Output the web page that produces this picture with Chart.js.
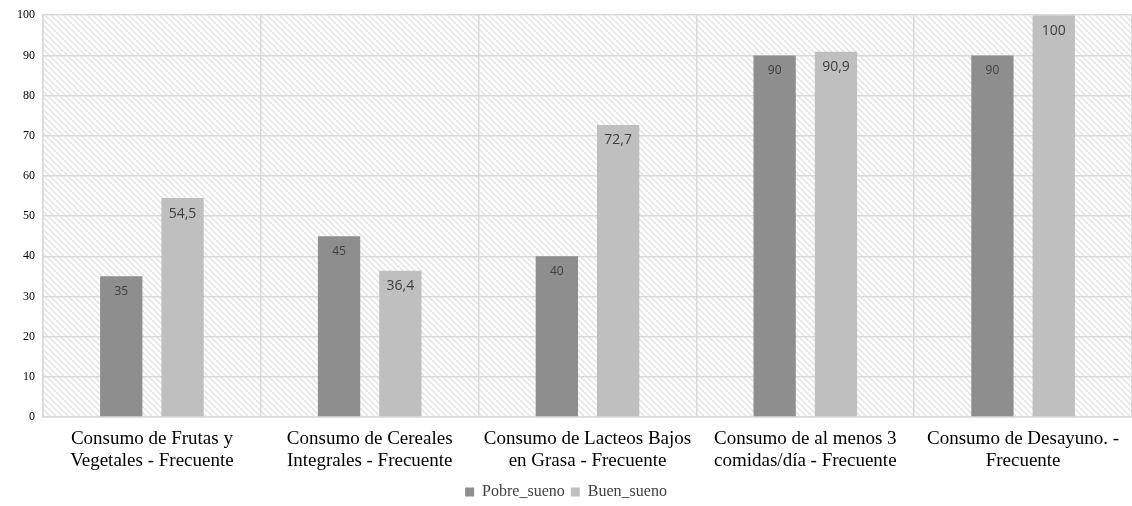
<!DOCTYPE html>
<html>
<head>
<meta charset="utf-8">
<script src="https://cdn.jsdelivr.net/npm/chart.js@4/dist/chart.umd.min.js"></script>
<style>
  html, body { margin: 0; padding: 0; background: #ffffff; overflow: hidden; }
  #wrap { width: 1132px; height: 506px; position: relative; }
  .fontwarm { position: absolute; left: -9999px; top: 0; font-family: 'Liberation Serif'; }
  .fontwarm2 { position: absolute; left: -9999px; top: 0; font-family: 'Open Sans'; }
</style>
</head>
<body>
<span class="fontwarm">Consumo 0123</span>
<span class="fontwarm2">0123,</span>
<div id="wrap"><canvas id="c" width="1132" height="506"></canvas></div>
<script>
// Categories (two-line labels) and series values
const categories = [
  ["Consumo de Frutas y", "Vegetales - Frecuente"],
  ["Consumo de Cereales", "Integrales - Frecuente"],
  ["Consumo de Lacteos Bajos", "en Grasa - Frecuente"],
  ["Consumo de al menos 3", "comidas/día - Frecuente"],
  ["Consumo de Desayuno. -", "Frecuente"]
];
const pobreSueno = [35, 45, 40, 90, 90];
const buenSueno = [54.5, 36.4, 72.7, 90.9, 100];
const seriesNames = ["Pobre_sueno", "Buen_sueno"];
const yTicks = [0, 10, 20, 30, 40, 50, 60, 70, 80, 90, 100];

const SERIF = 'Liberation Serif';
const SANS = 'Open Sans';
const LEGEND_PAD = 6;
const LEGEND_FONT = 16;
const LEGEND_Y = 492;

// Diagonal hatch tile used as the plot-area background
function makeHatch() {
  const s = 6;
  const t = document.createElement('canvas');
  t.width = s; t.height = s;
  const g = t.getContext('2d');
  g.fillStyle = '#ffffff';
  g.fillRect(0, 0, s, s);
  g.strokeStyle = '#e2e2e2';
  g.lineWidth = 1.4;
  g.beginPath();
  g.moveTo(-1, -1); g.lineTo(s + 1, s + 1);
  g.moveTo(-1, s - 1); g.lineTo(1, s + 1);
  g.moveTo(s - 1, -1); g.lineTo(s + 1, 1);
  g.stroke();
  return t;
}

const hatchPlugin = {
  id: 'hatchBg',
  beforeDraw(chart) {
    const { ctx, chartArea: a } = chart;
    // place the legend row on its line below the category labels
    if (chart.legend) {
      chart.legend.top = LEGEND_Y - LEGEND_PAD - LEGEND_FONT / 2;
    }
    const pat = ctx.createPattern(makeHatch(), 'repeat');
    ctx.save();
    ctx.fillStyle = pat;
    ctx.fillRect(a.left, a.top, a.right - a.left, a.bottom - a.top);
    ctx.restore();
  }
};

// Value labels drawn inside the top of each bar
const valueLabels = {
  id: 'valueLabels',
  afterDatasetsDraw(chart) {
    const { ctx } = chart;
    chart.data.datasets.forEach((ds, di) => {
      const meta = chart.getDatasetMeta(di);
      meta.data.forEach((bar, i) => {
        const v = ds.data[i];
        const txt = String(v).replace('.', ',');
        ctx.save();
        ctx.fillStyle = '#404040';
        ctx.font = (di === 0 ? '12px ' : '14px ') + SANS;
        ctx.textAlign = 'center';
        ctx.textBaseline = 'middle';
        ctx.fillText(txt, bar.x, bar.y + 15.5);
        ctx.restore();
      });
    });
  }
};

function draw() {
  new Chart(document.getElementById('c'), {
    type: 'bar',
    data: {
      labels: categories,
      datasets: [
        { label: seriesNames[0], data: pobreSueno, backgroundColor: '#8e8e8e' },
        { label: seriesNames[1], data: buenSueno, backgroundColor: '#bfbfbf' }
      ]
    },
    options: {
      responsive: false,
      animation: false,
      devicePixelRatio: 1,
      layout: { padding: { top: 13, right: 0, left: 0, bottom: 0 } },
      datasets: { bar: { categoryPercentage: 0.563, barPercentage: 0.69 } },
      plugins: {
        legend: {
          position: 'bottom',
          labels: {
            boxWidth: 9, boxHeight: 9, padding: LEGEND_PAD,
            color: '#404040',
            font: { family: SERIF, size: LEGEND_FONT }
          }
        },
        tooltip: { enabled: false }
      },
      scales: {
        x: {
          offset: true,
          grid: { color: '#d9d9d9', lineWidth: 1.5, offset: true, drawTicks: false },
          border: { color: '#d9d9d9', width: 1.5 },
          ticks: {
            color: '#000000',
            padding: 11,
            maxRotation: 0,
            font: { family: SERIF, size: 19, lineHeight: 1.16 }
          },
          afterFit(scale) { scale.height = 57; }
        },
        y: {
          min: 0, max: 100,
          afterBuildTicks(scale) { scale.ticks = yTicks.map(v => ({ value: v })); },
          grid: { color: '#d9d9d9', lineWidth: 1.5, drawTicks: false },
          border: { color: '#d9d9d9', width: 1.5 },
          ticks: {
            color: '#000000',
            padding: 8,
            font: { family: SERIF, size: 12 }
          },
          afterFit(scale) { scale.width = 43; }
        }
      }
    },
    plugins: [hatchPlugin, valueLabels]
  });
}

if (document.fonts && document.fonts.load) {
  Promise.all([
    document.fonts.load('16px "Liberation Serif"'),
    document.fonts.load('13px "Open Sans"')
  ]).then(draw, draw);
} else {
  draw();
}
</script>
</body>
</html>
